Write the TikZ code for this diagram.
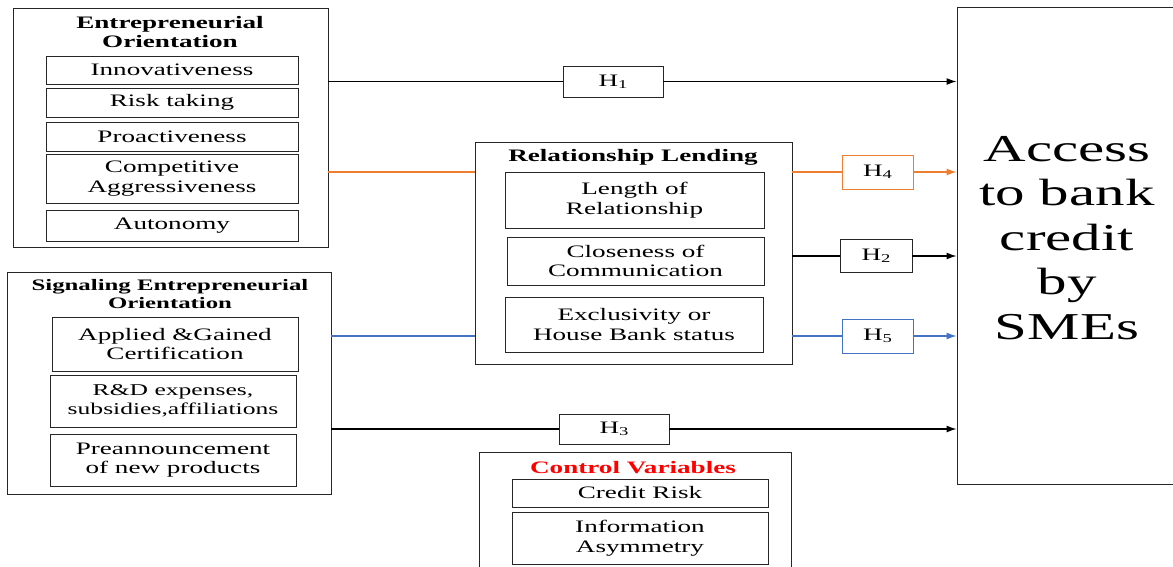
\documentclass[tikz,border=0pt]{standalone}
\usepackage{fontspec}
\setmainfont[FakeStretch=1.55]{Liberation Serif}
\usetikzlibrary{arrows.meta}
\definecolor{orng}{RGB}{237,125,49}
\definecolor{blu}{RGB}{68,114,196}
\newcommand{\hyp}[1]{H\raisebox{-.25ex}{\fontsize{12}{12}\selectfont #1}}

\begin{document}
\begin{tikzpicture}[x=1pt,y=-1pt,>={Latex[length=10pt,width=7pt]},
  grp/.style={draw=black!85,line width=0.9pt,inner sep=0pt},
  item/.style={draw=black!85,line width=0.9pt,align=center,inner sep=0pt,font=\fontsize{17.5}{19.5}\selectfont},
  ttl/.style={align=center,inner sep=0pt,font=\fontsize{17.5}{19.5}\selectfont\bfseries},
  hbox/.style={draw=black!85,line width=0.9pt,inner sep=0pt,font=\fontsize{17.5}{19}\selectfont},
  link/.style={line width=1.2pt}]
\useasboundingbox (0,0) rectangle (1173,566);
\clip (0,0) rectangle (1173,566);

\node[grp,minimum width=315pt,minimum height=239pt] (eo) at (170.5,127.5) {};
\node[ttl] (eotitle) at (170,32) {Entrepreneurial\\Orientation};
\node[item,minimum width=252pt,minimum height=28pt] (innov) at (172,70) {Innovativeness};
\node[item,minimum width=252pt,minimum height=29pt] (risk) at (172,102.5) {Risk taking};
\node[item,minimum width=252pt,minimum height=29pt] (proact) at (172,136.5) {Proactiveness};
\node[item,minimum width=252pt,minimum height=49pt] (comp) at (172,178.5) {Competitive\\Aggressiveness};
\node[item,minimum width=252pt,minimum height=31pt] (auto) at (172,225.5) {Autonomy};

\node[grp,minimum width=324pt,minimum height=222pt] (seo) at (169,383) {};
\node[ttl,font=\fontsize{16}{18.5}\selectfont\bfseries] (seotitle) at (170,294) {Signaling Entrepreneurial\\Orientation};
\node[item,minimum width=246pt,minimum height=54pt] (applied) at (175,344) {Applied \&Gained\\Certification};
\node[item,minimum width=246pt,minimum height=52pt,font=\fontsize{16.5}{19}\selectfont] (rnd) at (173,401) {R\&D expenses,\\subsidies,affiliations};
\node[item,minimum width=246pt,minimum height=52pt] (pre) at (173,460) {Preannouncement\\of new products};

\node[grp,minimum width=317pt,minimum height=222pt] (rl) at (633.5,253) {};
\node[ttl] (rltitle) at (633,157) {Relationship Lending};
\node[item,minimum width=259pt,minimum height=56pt] (length) at (634.5,200) {Length of\\Relationship};
\node[item,minimum width=257pt,minimum height=48pt] (close) at (635.5,261) {Closeness of\\Communication};
\node[item,minimum width=258pt,minimum height=55pt] (excl) at (634,324.5) {Exclusivity or\\House Bank status};

\node[grp,minimum width=312pt,minimum height=148pt] (cv) at (635,526) {};
\node[ttl,text=red] (cvtitle) at (633,468) {Control Variables};
\node[item,minimum width=256pt,minimum height=28pt] (credit) at (640,493) {Credit Risk};
\node[item,minimum width=256pt,minimum height=52pt] (info) at (640,538) {Information\\Asymmetry};

\node[grp,minimum width=233pt,minimum height=477pt] (access) at (1073.5,245.5) {};
\node[align=center,inner sep=0pt,font=\fontsize{38}{44.5}\selectfont] (accesstext) at (1067,238) {Access\\to bank\\credit\\by\\SMEs};

\node[hbox,minimum width=100pt,minimum height=31pt] (h1) at (613,81.5) {\hyp{1}};
\node[hbox,draw=orng,minimum width=71pt,minimum height=34pt] (h4) at (877.5,172) {\hyp{4}};
\node[hbox,minimum width=72pt,minimum height=33pt] (h2) at (876,256) {\hyp{2}};
\node[hbox,draw=blu,minimum width=71pt,minimum height=34pt] (h5) at (877.5,336) {\hyp{5}};
\node[hbox,minimum width=110pt,minimum height=30pt] (h3) at (614,429) {\hyp{3}};

\draw[link] (eo.east |- h1) -- (h1.west);
\draw[link,->] (h1.east) -- (access.west |- h1);
\draw[link,orng] (eo.east |- h4) -- (rl.west |- h4);
\draw[link,orng] (rl.east |- h4) -- (h4.west);
\draw[link,orng,->] (h4.east) -- (access.west |- h4);
\draw[link] (rl.east |- h2) -- (h2.west);
\draw[link,->] (h2.east) -- (access.west |- h2);
\draw[link,blu] (seo.east |- h5) -- (rl.west |- h5);
\draw[link,blu] (rl.east |- h5) -- (h5.west);
\draw[link,blu,->] (h5.east) -- (access.west |- h5);
\draw[link] (seo.east |- h3) -- (h3.west);
\draw[link,->] (h3.east) -- (access.west |- h3);
\end{tikzpicture}
\end{document}
